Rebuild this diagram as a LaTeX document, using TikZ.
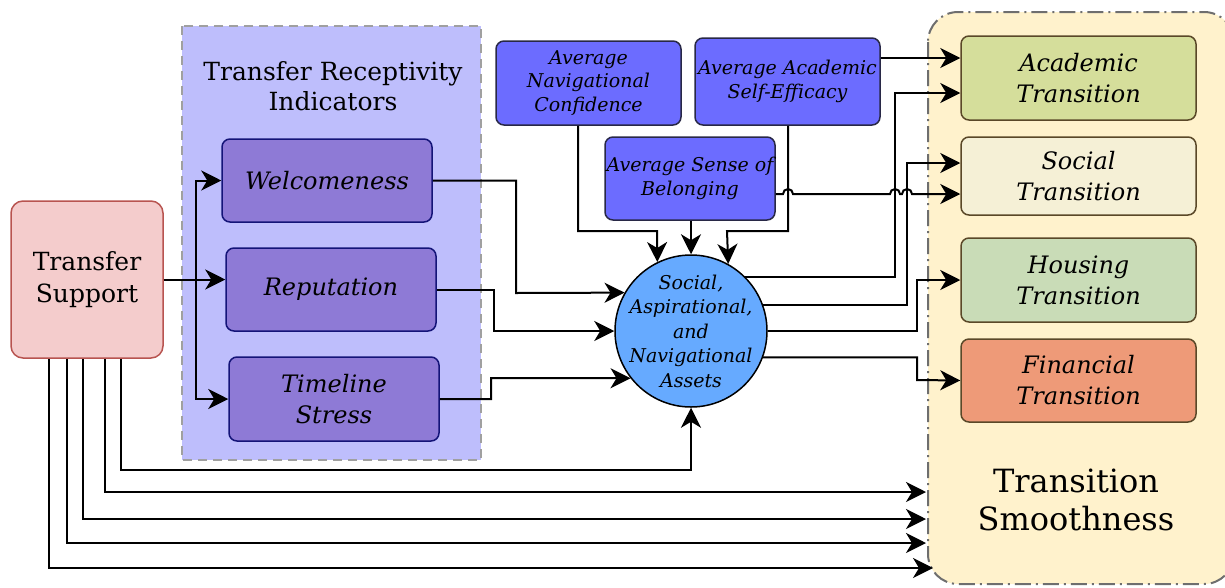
\documentclass[tikz,border=0pt]{standalone}
\usepackage{fontspec}
\setmainfont{DejaVu Serif}
\usetikzlibrary{arrows.meta}
\definecolor{tsF}{RGB}{244,204,204}
\definecolor{tsD}{RGB}{184,84,80}
\definecolor{grpF}{RGB}{190,190,252}
\definecolor{grpD}{RGB}{160,160,160}
\definecolor{indF}{RGB}{142,122,214}
\definecolor{indD}{RGB}{20,20,120}
\definecolor{avgF}{RGB}{108,108,255}
\definecolor{avgD}{RGB}{40,40,70}
\definecolor{circF}{RGB}{102,170,255}
\definecolor{smF}{RGB}{255,242,204}
\definecolor{smD}{RGB}{110,110,110}
\definecolor{acF}{RGB}{213,222,155}
\definecolor{soF}{RGB}{245,240,214}
\definecolor{hoF}{RGB}{201,220,183}
\definecolor{fiF}{RGB}{238,154,120}
\definecolor{trD}{RGB}{90,72,40}
\begin{document}
\begin{tikzpicture}[x=1pt,y=-1pt,
  box/.style={draw, rounded corners=8pt, line width=1.5pt, align=center, inner sep=0pt},
  ind/.style={box, fill=indF, draw=indD, minimum width=210pt, minimum height=83pt, font=\fontsize{24}{31}\selectfont\itshape},
  avg/.style={box, fill=avgF, draw=avgD, minimum width=185pt, font=\fontsize{19}{23.5}\selectfont\itshape},
  trans/.style={box, fill=#1, draw=trD, minimum width=235pt, font=\fontsize{24}{31}\selectfont\itshape},
  conn/.style={line width=2pt, -{Stealth[length=20pt,width=20pt,inset=6pt]}}]
\useasboundingbox (0,0) rectangle (1225,587);
% groups
\draw[grpD, dash pattern=on 9pt off 6pt, line width=1.5pt, fill=grpF] (182,26) rectangle (481,460);
\node[font=\fontsize{25}{30}\selectfont, align=center] (tri) at (333,86) {Transfer Receptivity\\Indicators};
\draw[smD, line width=2pt, dash pattern=on 16pt off 5pt on 2pt off 5pt, fill=smF, rounded corners=30pt] (928,12) rectangle (1234,584);
\node[font=\fontsize{32}{38}\selectfont, align=center] (tsm) at (1076,500) {Transition\\Smoothness};
% nodes
\node[box, fill=tsF, draw=tsD, rounded corners=12pt, minimum width=152pt, minimum height=157pt, font=\fontsize{25}{32}\selectfont] (ts) at (87,279.5) {Transfer\\Support};
\node[ind] (wel) at (327,180.5) {Welcomeness};
\node[ind] (rep) at (331,289.5) {Reputation};
\node[ind, minimum height=84pt] (tl) at (334,399) {Timeline\\Stress};
\node[avg, minimum height=84pt] (nc) at (588.5,83) {Average\\Navigational\\Confidence};
\node[avg, minimum height=87pt] (ase) at (787.5,81.5) {Average Academic\\Self-Efficacy};
\node[avg, minimum width=170pt, minimum height=83pt] (bel) at (690,178.5) {Average Sense of\\Belonging};
\node[circle, draw=black, line width=1.5pt, fill=circF, minimum size=152pt, inner sep=-20pt, align=center, font=\fontsize{19}{24.5}\selectfont\itshape] (ast) at (691,331) {Social,\\Aspirational,\\and\\Navigational\\Assets};
\node[trans=acF, minimum height=84pt] (at) at (1078.5,78) {Academic\\Transition};
\node[trans=soF, minimum height=78pt] (st) at (1078.5,176) {Social\\Transition};
\node[trans=hoF, minimum height=84pt] (ht) at (1078.5,280) {Housing\\Transition};
\node[trans=fiF, minimum height=83pt] (ft) at (1078.5,380.5) {Financial\\Transition};
\coordinate (e1) at (926,492);
\coordinate (e2) at (926,519);
\coordinate (e3) at (926,543);
\coordinate (e4) at (933,568);
% connectors
\draw[conn] (ts.east) -- (rep.west |- ts.east);
\draw[conn] (ts.east) -| ([xshift=-25pt]wel.west) -- (wel.west);
\draw[conn] (ts.east) -| ([xshift=-32pt]tl.west) -- (tl.west);
\draw[conn] (wel.east) -| (516,293) -- (ast.150);
\draw[conn] (rep.east) -| (494,331) -- (ast.west);
\draw[conn] (tl.east) -| (491,378) -- (ast.218);
\draw[conn] (nc.south -| 578,0) |- (657,231) -- (ast.116.6);
\draw[conn] (bel.south -| ast.north) -- (ast.north);
\draw[conn] (ase.south -| 788,0) |- (727,231) -- (ast.61.7);
\draw[conn] (ase.east |- 0,58) -- (at.west |- 0,58);
\draw[conn] (ast.45) -| (895,93) -- (at.west |- 0,93);
\draw[conn] (ast.20) -| (907,163) -- (st.west |- 0,163);
\draw[conn] (bel.east |- 0,194) -- (783,194) arc[start angle=180,end angle=0,radius=5pt] -- (890,194) arc[start angle=180,end angle=0,radius=5pt] -- (902,194) arc[start angle=180,end angle=0,radius=5pt] -- (st.west |- 0,194);
\draw[conn] (ast.east) -| (917,280) -- (ht.west);
\draw[conn] (ast.-20) -| (917,380) -- (ft.west);
\draw[conn] ([xshift=34pt]ts.south) |- (ast.south |- 0,470) -- (ast.south);
\draw[conn] ([xshift=18pt]ts.south) |- (e1);
\draw[conn] ([xshift=-4pt]ts.south) |- (e2);
\draw[conn] ([xshift=-20pt]ts.south) |- (e3);
\draw[conn] ([xshift=-38pt]ts.south) |- (e4);
\end{tikzpicture}
\end{document}
